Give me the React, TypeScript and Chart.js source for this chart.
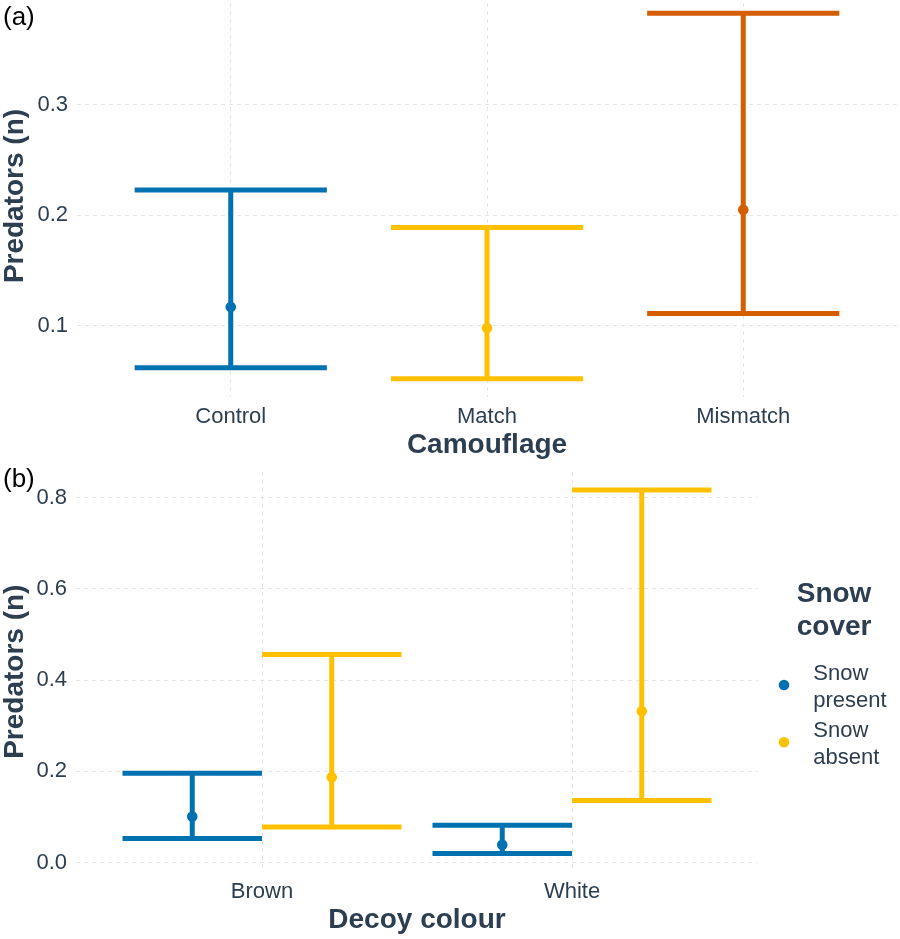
import React, { useEffect, useRef } from "react";
import { Chart, registerables } from "chart.js";
import type { ChartConfiguration, Plugin } from "chart.js";

Chart.register(...registerables);

const FONT = "'Liberation Sans', Arial, Helvetica, sans-serif";
const TEXT = "#2C3E50";
const GRID = "#E6E6E6";

// panel (a): predators by camouflage treatment
const camoLabels = ["Control", "Match", "Mismatch"];
const camoMean = [0.117, 0.098, 0.205];
const camoLow = [0.062, 0.052, 0.111];
const camoHigh = [0.223, 0.189, 0.383];
const camoColors = ["#0072B2", "#FFC000", "#D55E00"];
const camoTicks = [0.1, 0.2, 0.3];

// panel (b): predators by decoy colour and snow cover
const decoyLabels = ["Brown", "White"];
const snowLabels = [["Snow", "present"], ["Snow", "absent"]];
const presentMean = [0.101, 0.039];
const presentLow = [0.053, 0.02];
const presentHigh = [0.196, 0.082];
const absentMean = [0.187, 0.332];
const absentLow = [0.078, 0.136];
const absentHigh = [0.456, 0.817];
const snowColors = ["#0072B2", "#FFC000"];
const decoyTicks = [0, 0.2, 0.4, 0.6, 0.8];

type Pt = { x: number; y: number | null };

// cap, whisker, cap with gaps in between
function errorBar(x: number, lo: number, hi: number, half: number): Pt[] {
  return [
    { x: x - half, y: hi },
    { x: x + half, y: hi },
    { x, y: null },
    { x, y: hi },
    { x, y: lo },
    { x, y: null },
    { x: x - half, y: lo },
    { x: x + half, y: lo },
  ];
}

function padRange(lo: number[], hi: number[]) {
  const min = Math.min(...lo);
  const max = Math.max(...hi);
  const r = max - min;
  return { min: min - 0.05 * r, max: max + 0.05 * r };
}

function barSet(points: Pt[], color: string) {
  return {
    data: points,
    showLine: true,
    spanGaps: false,
    borderColor: color,
    backgroundColor: color,
    borderWidth: 5,
    borderCapStyle: "butt",
    pointRadius: 0,
    order: 2,
  };
}

function meanSet(x: number, y: number, color: string) {
  return {
    data: [{ x, y }],
    showLine: false,
    pointRadius: 5.3,
    pointBorderWidth: 0,
    pointBackgroundColor: color,
    backgroundColor: color,
    borderColor: color,
    order: 1,
  };
}

function tagPlugin(tag: string, baseline: number): Plugin {
  return {
    id: "tag",
    afterDraw(chart) {
      const ctx = chart.ctx;
      ctx.save();
      ctx.font = `26px ${FONT}`;
      ctx.fillStyle = "#000";
      ctx.textBaseline = "alphabetic";
      ctx.textAlign = "left";
      ctx.fillText(tag, 3, baseline);
      ctx.restore();
    },
  };
}

const snowLegend: Plugin = {
  id: "snowLegend",
  afterDraw(chart) {
    const ctx = chart.ctx;
    const left = chart.chartArea.right;
    ctx.save();
    ctx.fillStyle = TEXT;
    ctx.textAlign = "left";
    ctx.textBaseline = "alphabetic";
    ctx.font = `bold 28px ${FONT}`;
    ctx.fillText("Snow", left + 38.7, 141.7);
    ctx.fillText("cover", left + 38.7, 175);
    ctx.font = `22px ${FONT}`;
    snowLabels.forEach((lines, i) => {
      const top = 220 + i * 57.3;
      ctx.fillStyle = snowColors[i];
      ctx.beginPath();
      ctx.arc(left + 26, top + 5, 5.3, 0, Math.PI * 2);
      ctx.fill();
      ctx.fillStyle = TEXT;
      lines.forEach((t, j) => ctx.fillText(t, left + 55.3, top + j * 26.7));
    });
    ctx.restore();
  },
};

function axisCommon(titleText: string, titlePad: { top: number; bottom: number }) {
  return {
    grid: { color: GRID, lineWidth: 1, drawTicks: false },
    border: { display: false, dash: [4, 4] },
    title: {
      display: true,
      text: titleText,
      color: TEXT,
      font: { family: FONT, size: 28, weight: "bold" as const, lineHeight: 1.07 },
      padding: titlePad,
    },
  };
}

// fixed axis size, and no label overhang padding
function fixSize(prop: "width" | "height", size: number) {
  return (s: any) => {
    s[prop] = size;
    s.paddingTop = 0;
    s.paddingBottom = 0;
    s.paddingLeft = 0;
    s.paddingRight = 0;
  };
}

function makeConfigA(): ChartConfiguration<"scatter"> {
  const yr = padRange(camoLow, camoHigh);
  const datasets: any[] = [];
  camoLabels.forEach((_, i) => {
    datasets.push(barSet(errorBar(i + 1, camoLow[i], camoHigh[i], 0.375), camoColors[i]));
    datasets.push(meanSet(i + 1, camoMean[i], camoColors[i]));
  });
  return {
    type: "scatter",
    data: { datasets },
    options: {
      responsive: false,
      animation: false,
      events: [],
      layout: { padding: { top: 0, right: 3, bottom: 0, left: 0 }, autoPadding: false },
      plugins: { legend: { display: false }, tooltip: { enabled: false } },
      scales: {
        x: {
          type: "linear",
          min: 0.4,
          max: camoLabels.length + 0.6,
          afterBuildTicks: (s: any) => {
            s.ticks = camoLabels.map((_, i) => ({ value: i + 1 }));
          },
          afterFit: fixSize("height", 65),
          ticks: {
            callback: (v: any) => camoLabels[Number(v) - 1] ?? "",
            color: TEXT,
            font: { family: FONT, size: 22 },
            padding: 7,
            maxRotation: 0,
            autoSkip: false,
          },
          ...axisCommon("Camouflage", { top: 0, bottom: 2 }),
        },
        y: {
          type: "linear",
          min: yr.min,
          max: yr.max,
          afterBuildTicks: (s: any) => {
            s.ticks = camoTicks.map((v) => ({ value: v }));
          },
          afterFit: fixSize("width", 77),
          ticks: {
            callback: (v: any) => Number(v).toFixed(1),
            color: TEXT,
            font: { family: FONT, size: 22 },
            padding: 9,
          },
          ...axisCommon("Predators (n)", { top: 0, bottom: 0 }),
        },
      },
    } as any,
    plugins: [tagPlugin("(a)", 30)],
  };
}

function makeConfigB(): ChartConfiguration<"scatter"> {
  const yr = padRange(
    [...presentLow, ...absentLow],
    [...presentHigh, ...absentHigh]
  );
  const groups = [
    { mean: presentMean, low: presentLow, high: presentHigh, shift: -0.225 },
    { mean: absentMean, low: absentLow, high: absentHigh, shift: 0.225 },
  ];
  const datasets: any[] = [];
  groups.forEach((g, gi) => {
    decoyLabels.forEach((_, i) => {
      const x = i + 1 + g.shift;
      datasets.push(barSet(errorBar(x, g.low[i], g.high[i], 0.225), snowColors[gi]));
      datasets.push(meanSet(x, g.mean[i], snowColors[gi]));
    });
  });
  return {
    type: "scatter",
    data: { datasets },
    options: {
      responsive: false,
      animation: false,
      events: [],
      layout: { padding: { top: 11.7, right: 142, bottom: 0, left: 0 }, autoPadding: false },
      plugins: { legend: { display: false }, tooltip: { enabled: false } },
      scales: {
        x: {
          type: "linear",
          min: 0.4,
          max: decoyLabels.length + 0.6,
          afterBuildTicks: (s: any) => {
            s.ticks = decoyLabels.map((_, i) => ({ value: i + 1 }));
          },
          afterFit: fixSize("height", 67.3),
          ticks: {
            callback: (v: any) => decoyLabels[Number(v) - 1] ?? "",
            color: TEXT,
            font: { family: FONT, size: 22 },
            padding: 7,
            maxRotation: 0,
            autoSkip: false,
          },
          ...axisCommon("Decoy colour", { top: 0, bottom: 4 }),
        },
        y: {
          type: "linear",
          min: yr.min,
          max: yr.max,
          afterBuildTicks: (s: any) => {
            s.ticks = decoyTicks.map((v) => ({ value: v }));
          },
          afterFit: fixSize("width", 76),
          ticks: {
            callback: (v: any) => Number(v).toFixed(1),
            color: TEXT,
            font: { family: FONT, size: 22 },
            padding: 9,
          },
          ...axisCommon("Predators (n)", { top: 0, bottom: 0 }),
        },
      },
    } as any,
    plugins: [tagPlugin("(b)", 26.7), snowLegend],
  };
}

export default function App() {
  const refA = useRef<HTMLCanvasElement | null>(null);
  const refB = useRef<HTMLCanvasElement | null>(null);

  useEffect(() => {
    if (!refA.current || !refB.current) return;
    const a = new Chart(refA.current, makeConfigA());
    const b = new Chart(refB.current, makeConfigB());
    return () => {
      a.destroy();
      b.destroy();
    };
  }, []);

  return (
    <div
      style={{
        position: "absolute",
        left: 0,
        top: 0,
        width: 900,
        height: 939,
        overflow: "hidden",
        background: "#fff",
      }}
    >
      <canvas
        ref={refA}
        width={900}
        height={467}
        style={{ position: "absolute", left: 0, top: -5, width: 900, height: 467 }}
      />
      <canvas
        ref={refB}
        width={900}
        height={479}
        style={{ position: "absolute", left: 0, top: 460, width: 900, height: 479 }}
      />
    </div>
  );
}
